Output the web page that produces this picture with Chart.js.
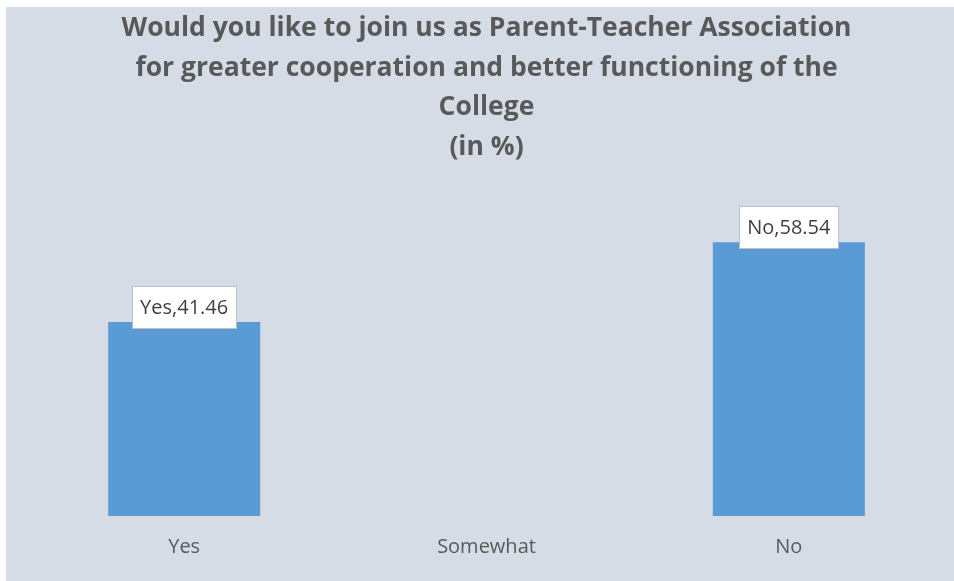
<!DOCTYPE html>
<html>
<head>
<meta charset="utf-8">
<script src="https://cdn.jsdelivr.net/npm/chart.js@4.4.0/dist/chart.umd.min.js"></script>
<style>
  body { margin: 0; background: #ffffff; }
  #wrap { position: absolute; left: 6px; top: 7px; width: 948px; height: 574px; background: #d6dce5; }
</style>
</head>
<body>
<div id="wrap"><canvas id="chart" width="948" height="574"></canvas></div>
<script>
const categories = ["Yes", "Somewhat", "No"];
const percentValues = [41.46, null, 58.54];
const titleLines = [
  "Would you like to join us as Parent-Teacher Association",
  "for greater cooperation and better functioning of the",
  "College",
  "(in %)"
];

// white boxes with "Category,value" above each bar
const boxLabels = {
  id: "boxLabels",
  afterDatasetsDraw(chart) {
    const ctx = chart.ctx;
    const meta = chart.getDatasetMeta(0);
    ctx.save();
    ctx.font = "20px 'Open Sans'";
    ctx.textAlign = "center";
    ctx.textBaseline = "middle";
    meta.data.forEach((bar, i) => {
      const v = percentValues[i];
      if (v == null) return;
      const text = categories[i] + "," + v.toFixed(2);
      const w = ctx.measureText(text).width + 16;
      const h = 42;
      const cy = bar.y - 15;
      ctx.fillStyle = "#ffffff";
      ctx.fillRect(bar.x - w / 2, cy - h / 2, w, h);
      ctx.strokeStyle = "#bfbfbf";
      ctx.lineWidth = 1;
      ctx.strokeRect(Math.round(bar.x - w / 2) + 0.5, Math.round(cy - h / 2) + 0.5, Math.round(w), h);
      ctx.fillStyle = "#404040";
      ctx.fillText(text, bar.x, cy + 1);
    });
    ctx.restore();
  }
};

new Chart(document.getElementById("chart").getContext("2d"), {
  type: "bar",
  data: {
    labels: categories,
    datasets: [{
      data: percentValues,
      backgroundColor: "#5b9bd5",
      categoryPercentage: 1,
      barPercentage: 0.503
    }]
  },
  options: {
    responsive: false,
    animation: false,
    layout: { padding: { left: 27, right: 14, top: 0, bottom: 11 } },
    plugins: {
      legend: { display: false },
      tooltip: { enabled: false },
      title: {
        display: true,
        text: titleLines,
        color: "#595959",
        font: { family: "'Open Sans'", size: 26.5, weight: "bold", lineHeight: "39.5px" },
        padding: { top: 2, bottom: 24 }
      }
    },
    scales: {
      x: {
        grid: { display: false },
        border: { display: false },
        ticks: { color: "#595959", font: { family: "'Open Sans'", size: 20 }, padding: 11 }
      },
      y: {
        display: false,
        min: 0,
        max: 69.5
      }
    }
  },
  plugins: [boxLabels]
});
</script>
</body>
</html>
